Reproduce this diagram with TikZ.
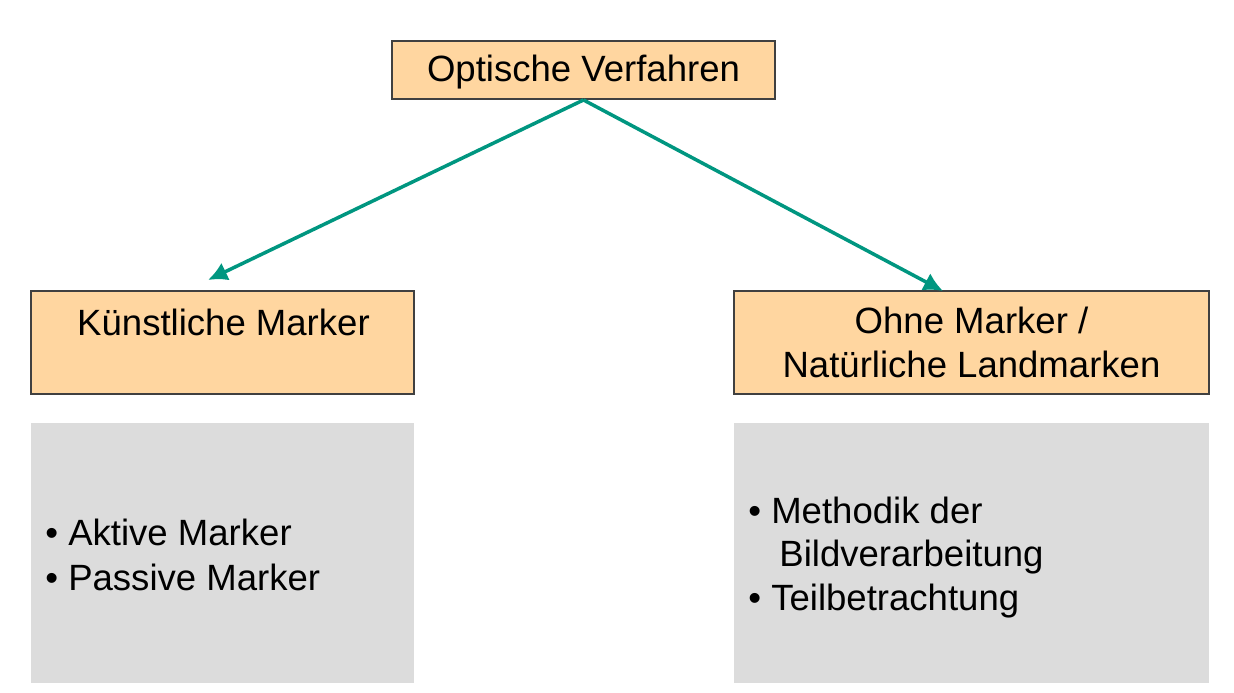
\documentclass[tikz,border=0pt]{standalone}
\usepackage{fontspec}
\setmainfont{Liberation Sans}
\usepackage{tikz}
\usetikzlibrary{arrows.meta}

\definecolor{pfirsich}{RGB}{255,214,160}
\definecolor{grauflaeche}{RGB}{220,220,220}
\definecolor{petrol}{RGB}{0,150,128}
\definecolor{rahmen}{RGB}{64,64,64}

\tikzset{
	kasten/.style={draw=rahmen, line width=1.1pt, fill=pfirsich, inner sep=0pt},
	grau/.style={fill=grauflaeche, inner sep=0pt},
	schrift/.style={font=\fontsize{20.8}{24.6}\selectfont, inner sep=0pt},
	pfeil/.style={->, draw=petrol, line width=2pt}
}

\begin{document}
\begin{tikzpicture} [>={Latex[length=11pt,width=11pt]}]
	%%%	Rahmen
	\useasboundingbox (0,0) rectangle (24.68,-13.86);
	%%%	Kaesten
	\node[kasten, minimum width=7.66cm, minimum height=1.16cm] (optisch) at (11.67,-1.40) {};
	\node[schrift] (optischtext) at (11.67,-1.45) {Optische Verfahren};
	\node[kasten, minimum width=7.66cm, minimum height=2.06cm] (kuenstlich) at (4.45,-6.85) {};
	\node[schrift] (kuenstlichtext) at (4.47,-6.44) {Künstliche Marker};
	\node[kasten, minimum width=9.50cm, minimum height=2.06cm] (natuerlich) at (19.43,-6.85) {};
	\node[schrift, align=center] (natuerlichtext) at (natuerlich) {Ohne Marker /\\Natürliche Landmarken};
	%%%	Graue Flaechen
	\node[grau, minimum width=7.66cm, minimum height=5.20cm] (listeL) at (4.45,-11.06) {};
	\node[grau, minimum width=9.50cm, minimum height=5.20cm] (listeR) at (19.43,-11.06) {};
	\node[schrift, anchor=west, align=left, font=\fontsize{20.8}{25.6}\selectfont] (listeLtext) at (0.90,-11.09)
		{• Aktive Marker\\• Passive Marker};
	\node[schrift, anchor=west, align=left, font=\fontsize{20.8}{24.8}\selectfont] (listeRtext) at (14.96,-11.15)
		{• Methodik der\\\hspace{0.85em}Bildverarbeitung\\• Teilbetrachtung};
	%%%	Pfeile
	\coordinate (spitzeL) at (4.16,-5.60);
	\coordinate (spitzeR) at (18.86,-5.82);
	\draw[pfeil] (optisch.south) -- (spitzeL);
	\draw[pfeil] (optisch.south) -- (spitzeR);
\end{tikzpicture}
\end{document}
